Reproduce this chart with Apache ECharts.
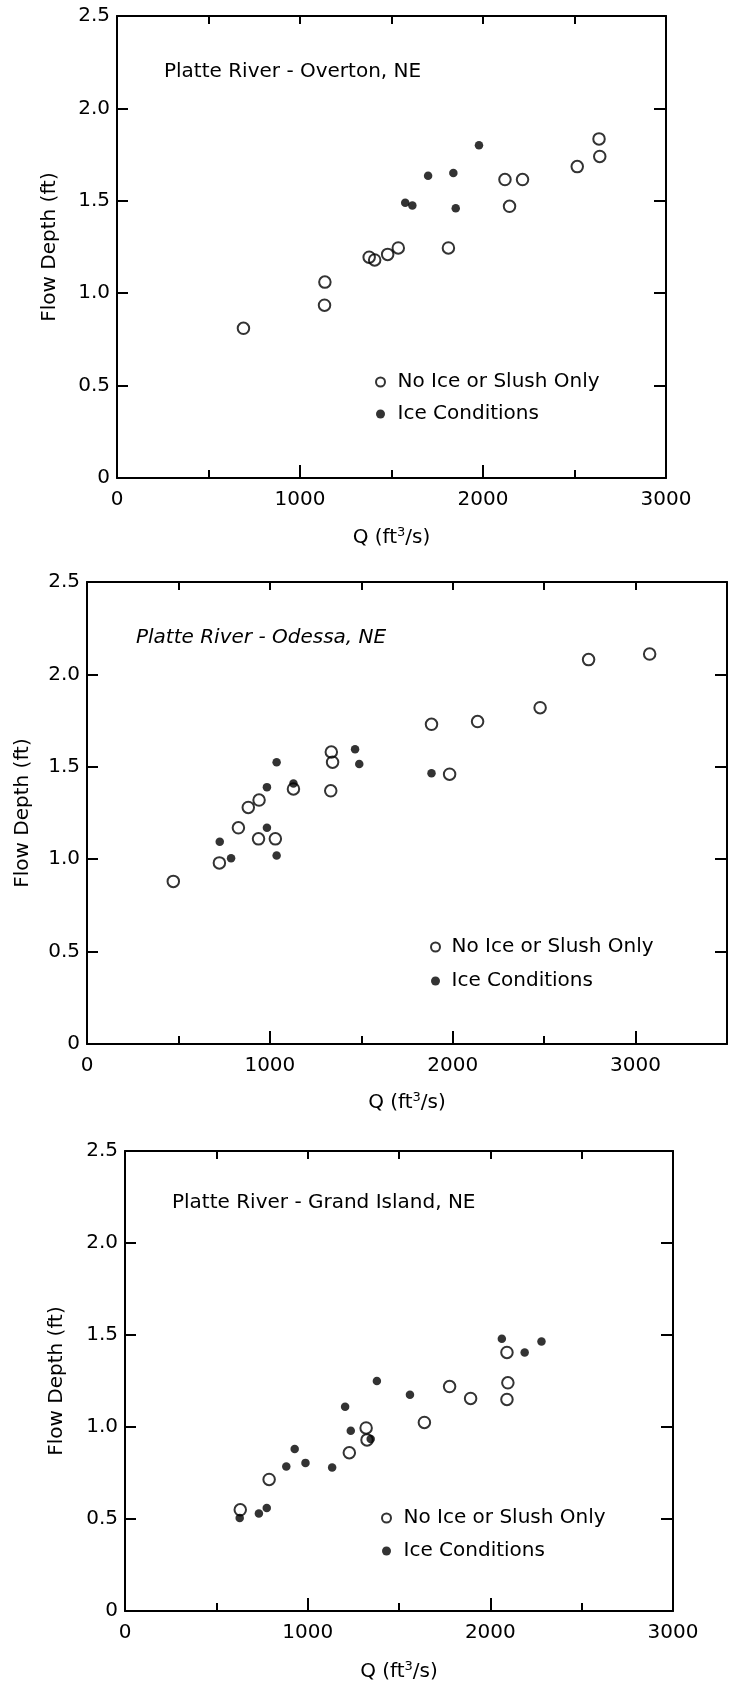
<!DOCTYPE html>
<html>
<head>
<meta charset="utf-8">
<title>Platte River flow depth vs discharge</title>
<script src="https://cdn.jsdelivr.net/npm/echarts@6/dist/echarts.min.js"></script>
<style>
  html, body { margin: 0; padding: 0; background: #ffffff; }
  #chart { width: 730px; height: 1691px; }
</style>
</head>
<body>
<div id="chart"></div>
<script>
// Discharge Q (ft^3/s) and flow depth (ft) for three Platte River gauging sites
const overtonOpenQ = [691, 1136, 1134, 1378, 1408, 1479, 1537, 1811, 2120, 2216, 2145, 2515, 2634, 2638];
const overtonOpenD = [0.81, 1.06, 0.935, 1.195, 1.18, 1.21, 1.245, 1.245, 1.615, 1.615, 1.47, 1.685, 1.835, 1.74];
const overtonIceQ = [1575, 1614, 1700, 1838, 1851, 1978];
const overtonIceD = [1.49, 1.475, 1.635, 1.65, 1.46, 1.80];

const odessaOpenQ = [472, 724, 828, 882, 941, 938, 1030, 1129, 1336, 1343, 1333, 1884, 1983, 2136, 2478, 2743, 3077];
const odessaOpenD = [0.88, 0.98, 1.17, 1.28, 1.32, 1.11, 1.11, 1.38, 1.58, 1.525, 1.37, 1.73, 1.46, 1.745, 1.82, 2.08, 2.11];
const odessaIceQ = [726, 788, 984, 984, 1037, 1037, 1129, 1466, 1489, 1884];
const odessaIceD = [1.095, 1.005, 1.39, 1.17, 1.525, 1.02, 1.41, 1.595, 1.515, 1.465];

const grandOpenQ = [631, 789, 1228, 1320, 1325, 1639, 1777, 1892, 2091, 2096, 2091];
const grandOpenD = [0.55, 0.715, 0.86, 0.995, 0.93, 1.025, 1.22, 1.155, 1.405, 1.24, 1.15];
const grandIceQ = [628, 733, 776, 883, 929, 988, 1134, 1205, 1236, 1345, 1379, 1560, 2063, 2188, 2280];
const grandIceD = [0.505, 0.53, 0.56, 0.785, 0.88, 0.805, 0.78, 1.11, 0.98, 0.935, 1.25, 1.175, 1.48, 1.405, 1.465];

const siteTitles = ['Platte River - Overton, NE', 'Platte River - Odessa, NE', 'Platte River - Grand Island, NE'];
const openName = 'No Ice or Slush Only';
const iceName = 'Ice Conditions';
const yAxisName = 'Flow Depth (ft)';
const qMax = [3000, 3500, 3000];

const FONT = 'DejaVu Sans';
const INK = '#000000';

function zip(q, d) { return q.map((v, i) => [v, d[i]]); }

const sites = [
  { open: zip(overtonOpenQ, overtonOpenD), ice: zip(overtonIceQ, overtonIceD) },
  { open: zip(odessaOpenQ, odessaOpenD), ice: zip(odessaIceQ, odessaIceD) },
  { open: zip(grandOpenQ, grandOpenD), ice: zip(grandIceQ, grandIceD) }
];

// panel frames (pixels)
const frames = [
  { left: 117, top: 16, width: 549, height: 462, yGap: 57, xGap: 48,
    title: { left: 164, top: 62, italic: false },
    legend: { left: 375, top: 372, gap: 12, itemWidth: 24 } },
  { left: 87, top: 582, width: 640, height: 462, yGap: 54, xGap: 47,
    title: { left: 136, top: 628, italic: true },
    legend: { left: 430, top: 937, gap: 14, itemWidth: 22 } },
  { left: 125, top: 1151, width: 548, height: 460, yGap: 58, xGap: 49,
    title: { left: 172, top: 1193, italic: false },
    legend: { left: 381, top: 1508, gap: 13, itemWidth: 24 } }
];

const grid = [], xAxis = [], yAxis = [], series = [], title = [], legend = [];
const frameLine = { show: true, onZero: false, lineStyle: { color: INK, width: 2 } };
const noLine = { show: false, onZero: false };
const labelStyle = { color: INK, fontFamily: FONT, fontSize: 20 };

frames.forEach((f, p) => {
  grid.push({ left: f.left, top: f.top, width: f.width, height: f.height });

  // bottom axis: labels and long ticks
  xAxis.push({
    gridIndex: p, type: 'value', position: 'bottom', min: 0, max: qMax[p], interval: 1000,
    axisLine: frameLine,
    axisTick: { show: true, inside: true, length: 13, lineStyle: { color: INK, width: 2 } },
    axisLabel: Object.assign({ margin: 12, showMaxLabel: qMax[p] % 1000 === 0,
                               formatter: v => String(v) }, labelStyle),
    splitLine: { show: false },
    name: 'Q (ft{sup|3}/s)', nameLocation: 'middle', nameGap: f.xGap,
    nameTextStyle: {
      color: INK, fontFamily: FONT, fontSize: 20,
      rich: { sup: { fontSize: 13, verticalAlign: 'top', padding: [0, 0, 10, 0], color: INK, fontFamily: FONT } }
    }
  });
  // bottom axis: short ticks at half-thousands
  xAxis.push({
    gridIndex: p, type: 'value', position: 'bottom', min: 0, max: qMax[p], interval: 500,
    axisLine: noLine,
    axisTick: { show: true, inside: true, length: 8, lineStyle: { color: INK, width: 2 } },
    axisLabel: { show: false }, splitLine: { show: false }
  });
  // top frame edge
  xAxis.push({
    gridIndex: p, type: 'value', position: 'top', min: 0, max: qMax[p], interval: 500,
    axisLine: frameLine,
    axisTick: { show: true, inside: true, length: 8, lineStyle: { color: INK, width: 2 } },
    axisLabel: { show: false }, splitLine: { show: false }
  });

  yAxis.push({
    gridIndex: p, type: 'value', position: 'left', min: 0, max: 2.5, interval: 0.5,
    axisLine: frameLine,
    axisTick: { show: true, inside: true, length: 11, lineStyle: { color: INK, width: 2 } },
    axisLabel: Object.assign({ margin: 7, formatter: v => (v === 0 ? '0' : v.toFixed(1)) }, labelStyle),
    splitLine: { show: false },
    name: yAxisName, nameLocation: 'middle', nameGap: f.yGap,
    nameTextStyle: { color: INK, fontFamily: FONT, fontSize: 20 }
  });
  // right frame edge
  yAxis.push({
    gridIndex: p, type: 'value', position: 'right', min: 0, max: 2.5, interval: 0.5,
    axisLine: frameLine,
    axisTick: { show: true, inside: true, length: 12, lineStyle: { color: INK, width: 2 } },
    axisLabel: { show: false }, splitLine: { show: false }
  });

  series.push({
    type: 'scatter', name: iceName, xAxisIndex: 3 * p, yAxisIndex: 2 * p,
    data: sites[p].ice, symbol: 'circle', symbolSize: 8.5,
    itemStyle: { color: INK }
  });
  series.push({
    type: 'scatter', name: openName, xAxisIndex: 3 * p, yAxisIndex: 2 * p,
    data: sites[p].open, symbol: 'circle', symbolSize: 11.5,
    itemStyle: { color: 'rgba(255,255,255,0)', borderColor: INK, borderWidth: 2 }
  });

  title.push({
    text: siteTitles[p], left: f.title.left, top: f.title.top, padding: 0,
    textStyle: { color: INK, fontFamily: FONT, fontSize: 20, fontWeight: 'normal',
                 fontStyle: f.title.italic ? 'italic' : 'normal' }
  });

  legend.push({
    data: [{ name: openName, icon: 'circle' }, { name: iceName, icon: 'circle' }],
    orient: 'vertical', left: f.legend.left, top: f.legend.top, padding: 0,
    itemWidth: f.legend.itemWidth, itemHeight: 9, itemGap: f.legend.gap, selectedMode: false,
    textStyle: { color: INK, fontFamily: FONT, fontSize: 20 }
  });
});

const chart = echarts.init(document.getElementById('chart'), null, { renderer: 'canvas' });
chart.setOption({
  animation: false,
  backgroundColor: '#ffffff',
  title, legend, grid, xAxis, yAxis, series
});
</script>
</body>
</html>
